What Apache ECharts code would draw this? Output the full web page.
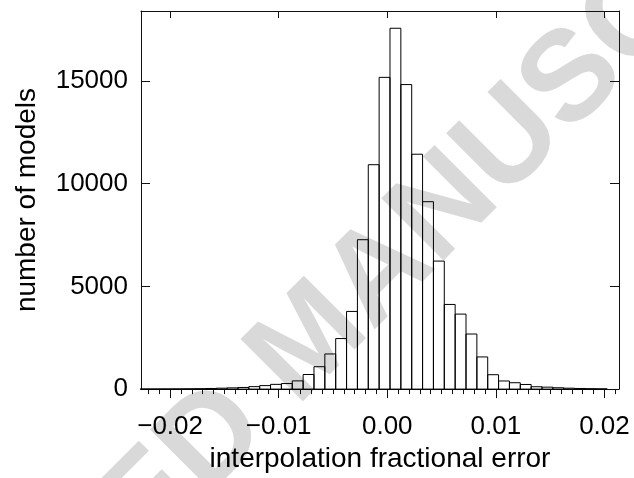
<!DOCTYPE html>
<html>
<head>
<meta charset="utf-8">
<script src="https://cdn.jsdelivr.net/npm/echarts@6/dist/echarts.min.js"></script>
<style>
html,body{margin:0;padding:0;background:#fff;}
#chart{width:634px;height:478px;}
</style>
</head>
<body>
<div id="chart"></div>
<script>
// ---- data ----
const binWidth = 0.001;
const binCenters = [
  -0.02225, -0.02125, -0.02025, -0.01925, -0.01825, -0.01725, -0.01625, -0.01525,
  -0.01425, -0.01325, -0.01225, -0.01125, -0.01025, -0.00925, -0.00825, -0.00725,
  -0.00625, -0.00525, -0.00425, -0.00325, -0.00225, -0.00125, -0.00025, 0.00075,
  0.00175, 0.00275, 0.00375, 0.00475, 0.00575, 0.00675, 0.00775, 0.00875,
  0.00975, 0.01075, 0.01175, 0.01275, 0.01375, 0.01475, 0.01575, 0.01675,
  0.01775, 0.01875, 0.01975
];
const counts = [
  5, 6, 8, 10, 14, 20, 30, 45,
  60, 80, 120, 170, 230, 270, 400, 710,
  1090, 1710, 2460, 3780, 7270, 10920, 15170, 17560,
  14820, 11430, 9120, 6230, 4120, 3650, 2680, 1565,
  700, 395, 310, 225, 115, 95, 65, 45,
  30, 20, 12
];
const xTickValues = [-0.02, -0.01, 0.00, 0.01, 0.02];
const yTickValues = [0, 5000, 10000, 15000];
const xTitle = 'interpolation fractional error';
const yTitle = 'number of models';
const watermark = 'ACCEPTED MANUSCRIPT';

// ---- axis structure ----
const xMin = -0.02268, xMax = 0.02134;
const yMin = 0, yMax = 18400;
const xMinorTicks = [];
for (let k = -22; k <= 21; k++) {
  const v = +(k * 0.001).toFixed(3);
  if (k % 10 !== 0) xMinorTicks.push(v);
}

const FONT = '"Liberation Sans", Arial, Helvetica, sans-serif';
const lineCol = '#111';

function fmtX(v) {
  const s = Math.abs(v).toFixed(2);
  return (v < -1e-9 ? '\u2212' : '') + s;
}
function fmtY(v) { return String(Math.round(v)); }

const chart = echarts.init(document.getElementById('chart'), null, {renderer: 'canvas'});
chart.setOption({
  animation: false,
  backgroundColor: '#fff',
  graphic: [{
    type: 'text',
    z: -10,
    silent: true,
    x: 312, y: 342,
    rotation: 45 * Math.PI / 180,
    style: {
      text: watermark,
      fill: '#d9d9d9',
      font: 'bold 128px ' + FONT,
      align: 'center',
      verticalAlign: 'middle'
    }
  }],
  grid: {left: 141, top: 11, width: 478, height: 383, containLabel: false},
  xAxis: [
    {
      type: 'value', position: 'bottom', min: xMin, max: xMax,
      axisLine: {show: true, onZero: false, lineStyle: {color: lineCol, width: 1}},
      axisTick: {show: true, inside: false, length: 9, customValues: xTickValues, lineStyle: {color: lineCol}},
      axisLabel: {show: true, customValues: xTickValues, margin: 25, formatter: fmtX,
        color: '#000', fontSize: 26, fontFamily: FONT},
      splitLine: {show: false},
      name: xTitle, nameLocation: 'middle', nameGap: 51,
      nameTextStyle: {color: '#000', fontSize: 28, fontFamily: FONT}
    },
    {
      type: 'value', position: 'bottom', min: xMin, max: xMax,
      axisLine: {show: false},
      axisTick: {show: true, inside: false, length: 5, customValues: xMinorTicks, lineStyle: {color: lineCol}},
      axisLabel: {show: false},
      splitLine: {show: false}
    },
    {
      type: 'value', position: 'top', min: xMin, max: xMax,
      axisLine: {show: true, onZero: false, lineStyle: {color: lineCol, width: 1}},
      axisTick: {show: true, inside: true, length: 7, customValues: xTickValues, lineStyle: {color: lineCol}},
      axisLabel: {show: false},
      splitLine: {show: false}
    }
  ],
  yAxis: [
    {
      type: 'value', position: 'left', min: yMin, max: yMax,
      axisLine: {show: true, onZero: false, lineStyle: {color: lineCol, width: 1}},
      axisTick: {show: true, inside: true, length: 9, customValues: yTickValues, lineStyle: {color: lineCol}},
      axisLabel: {show: true, customValues: yTickValues, margin: 13, formatter: fmtY,
        color: '#000', fontSize: 26, fontFamily: FONT},
      splitLine: {show: false},
      name: yTitle, nameLocation: 'middle', nameGap: 100, nameRotate: 90,
      nameTextStyle: {color: '#000', fontSize: 28, fontFamily: FONT}
    },
    {
      type: 'value', position: 'right', min: yMin, max: yMax,
      axisLine: {show: true, onZero: false, lineStyle: {color: lineCol, width: 1}},
      axisTick: {show: true, inside: true, length: 9, customValues: yTickValues, lineStyle: {color: lineCol}},
      axisLabel: {show: false},
      splitLine: {show: false}
    }
  ],
  series: [{
    type: 'custom',
    xAxisIndex: 0, yAxisIndex: 0,
    encode: {x: 0, y: 1},
    data: binCenters.map((c, i) => [c, counts[i]]),
    renderItem: function (params, api) {
      const c = api.value(0), v = api.value(1);
      const p0 = api.coord([c - binWidth / 2, v]);
      const p1 = api.coord([c + binWidth / 2, 0]);
      return {
        type: 'rect',
        shape: {x: p0[0], y: p0[1], width: p1[0] - p0[0], height: p1[1] - p0[1]},
        style: {fill: 'rgba(255,255,255,0)', stroke: '#000', lineWidth: 1}
      };
    },
    z: 3
  }]
});
</script>
</body>
</html>
